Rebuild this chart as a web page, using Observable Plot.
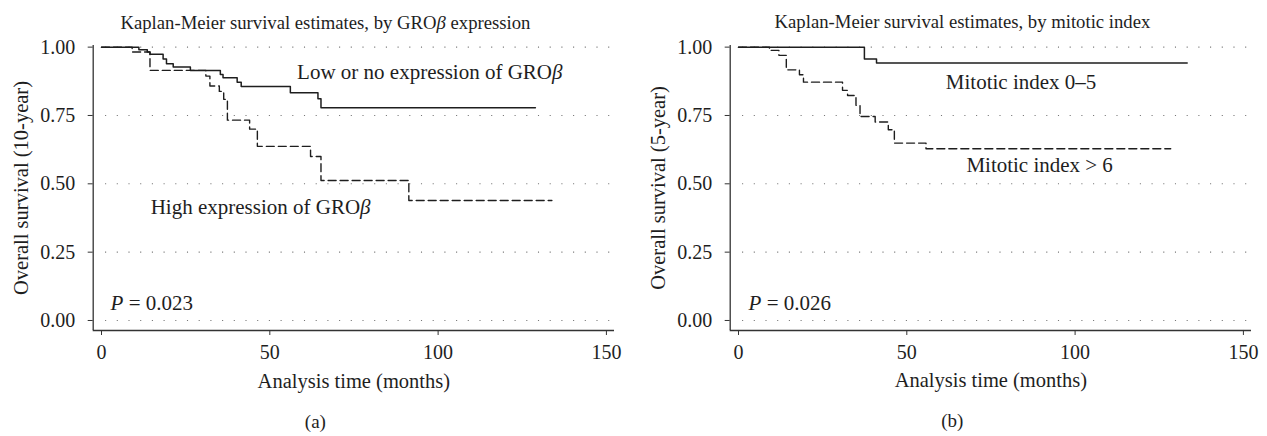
<!DOCTYPE html>
<html>
<head>
<meta charset="utf-8">
<script src="https://cdn.jsdelivr.net/npm/d3@7"></script>
<script src="https://cdn.jsdelivr.net/npm/@observablehq/plot@0.6"></script>
<style>
  html, body { margin: 0; padding: 0; background: #fff; }
  #wrap { position: relative; width: 1267px; height: 436px; overflow: hidden; }
  .panel { position: absolute; top: 0; }
  .panel svg { overflow: visible; }
</style>
</head>
<body>
<div id="wrap"></div>
<script>
// ---------- data ----------
const xTicks = [0, 50, 100, 150];
const yTicks = [0, 0.25, 0.5, 0.75, 1];

// Panel (a): GROβ expression
const lowGroTime = [0, 11.1, 13.6, 14.4, 18.3, 19.3, 21.3, 26.4, 35.3, 36.1, 40.3, 41.5, 56.1, 64.3, 65.2, 128.9];
const lowGroSurv = [1, 0.990, 0.982, 0.974, 0.957, 0.939, 0.927, 0.915, 0.900, 0.888, 0.872, 0.856, 0.833, 0.811, 0.778, 0.778];
const highGroTime = [0, 9.1, 14.4, 31.0, 32.2, 35.0, 36.3, 37.4, 44.0, 46.3, 62.1, 65.2, 91.3, 133.8];
const highGroSurv = [1, 0.982, 0.915, 0.894, 0.858, 0.838, 0.809, 0.733, 0.700, 0.637, 0.600, 0.512, 0.439, 0.439];

// Panel (b): mitotic index
const mitLowTime = [0, 37.4, 41.0, 133.3];
const mitLowSurv = [1, 0.957, 0.942, 0.942];
const mitHighTime = [0, 9.2, 12.0, 14.2, 18.1, 19.3, 30.9, 32.4, 34.9, 36.1, 40.6, 44.5, 46.3, 55.7, 128.4];
const mitHighSurv = [1, 0.988, 0.970, 0.917, 0.899, 0.872, 0.842, 0.823, 0.787, 0.746, 0.726, 0.698, 0.649, 0.628, 0.628];

// texts
const titlesA = ["Kaplan-Meier survival estimates, by GROβ expression"];
const titlesB = ["Kaplan-Meier survival estimates, by mitotic index"];
const yTitleA = ["Overall survival (10-year)"];
const yTitleB = ["Overall survival (5-year)"];
const xTitle = ["Analysis time (months)"];
const captionA = ["(a)"];
const captionB = ["(b)"];
const labelsA = [
  {t: 58.1, s: 0.884, text: "Low or no expression of GROβ"},
  {t: 14.6, s: 0.388, text: "High expression of GROβ"},
  {t: 2.7, s: 0.040, text: "P = 0.023"}
];
const labelsB = [
  {t: 61.6, s: 0.848, text: "Mitotic index 0–5"},
  {t: 67.7, s: 0.543, text: "Mitotic index > 6"},
  {t: 3.0, s: 0.040, text: "P = 0.026"}
];

// ---------- helpers ----------
const xDomain = [-2.47, 152.4];
const yDomain = [-0.0366, 1.006];
const FONT = "'Liberation Serif', 'Times New Roman', serif";
const INK = "#1e1e1e";

function series(times, surv) { return times.map((t, i) => ({t, s: surv[i]})); }

function italicize(svg) {
  d3.select(svg).selectAll("text").each(function () {
    const el = this;
    if (el.querySelector("tspan")) return;
    const txt = el.textContent;
    let parts = null;
    if (txt.includes("β")) {
      const i = txt.indexOf("β");
      parts = [[txt.slice(0, i), false], ["β", true], [txt.slice(i + 1), false]];
    } else if (/^P = /.test(txt)) {
      parts = [["P", true], [txt.slice(1), false]];
    }
    if (!parts) return;
    el.textContent = "";
    for (const [s, it] of parts) {
      if (!s) continue;
      const ts = document.createElementNS("http://www.w3.org/2000/svg", "tspan");
      ts.textContent = s;
      if (it) ts.setAttribute("font-style", "italic");
      el.appendChild(ts);
    }
  });
}

function panel({left, width, solid, dashed, labels, title, yTitle, caption}) {
  const plot = Plot.plot({
    width, height: 436,
    marginLeft: 92.7, marginRight: width - 614, marginTop: 45, marginBottom: 106,
    x: {domain: xDomain},
    y: {domain: yDomain},
    style: {fontFamily: FONT, fontSize: "20px", color: INK, background: "transparent", overflow: "visible"},
    marks: [
      Plot.ruleY(yTicks, {x1: 1.2, x2: 151.6, stroke: "#777", strokeWidth: 1.1, strokeDasharray: "1.1,10.6"}),
      Plot.ruleX([xDomain[0]], {stroke: "#333", strokeWidth: 1.3}),
      Plot.ruleY([yDomain[0]], {stroke: "#333", strokeWidth: 1.3}),
      Plot.axisX({ticks: xTicks, tickSize: 5, tickPadding: 9, label: null, stroke: "#333", fontSize: 20, tickFormat: d3.format("d")}),
      Plot.axisY({ticks: yTicks, tickSize: 5, tickPadding: 13, label: null, stroke: "#333", fontSize: 20, tickFormat: d3.format(".2f")}),
      Plot.line(solid, {x: "t", y: "s", curve: "step-after", stroke: INK, strokeWidth: 1.5}),
      Plot.line(dashed, {x: "t", y: "s", curve: "step-after", stroke: INK, strokeWidth: 1.4, strokeDasharray: "8,4"}),
      Plot.text(labels, {x: "t", y: "s", text: "text", textAnchor: "start", lineAnchor: "bottom", fontSize: 21}),
      Plot.text(title, {frameAnchor: "top", textAnchor: "middle", dx: -28.4, dy: -17, lineAnchor: "bottom", fontSize: 18.7}),
      Plot.text(yTitle, {frameAnchor: "left", textAnchor: "middle", dx: -72, rotate: -90, fontSize: 20.5}),
      Plot.text(xTitle, {frameAnchor: "bottom", textAnchor: "middle", dy: 57, fontSize: 20.5}),
      Plot.text(caption, {frameAnchor: "bottom", textAnchor: "middle", dx: -38.5, dy: 97, fontSize: 19})
    ]
  });
  italicize(plot);
  const div = document.createElement("div");
  div.className = "panel";
  div.style.left = left + "px";
  div.appendChild(plot);
  document.getElementById("wrap").appendChild(div);
}

panel({
  left: 0, width: 640,
  solid: series(lowGroTime, lowGroSurv),
  dashed: series(highGroTime, highGroSurv),
  labels: labelsA, title: titlesA, yTitle: yTitleA, caption: captionA
});
panel({
  left: 637.3, width: 629.7,
  solid: series(mitLowTime, mitLowSurv),
  dashed: series(mitHighTime, mitHighSurv),
  labels: labelsB, title: titlesB, yTitle: yTitleB, caption: captionB
});
</script>
</body>
</html>
